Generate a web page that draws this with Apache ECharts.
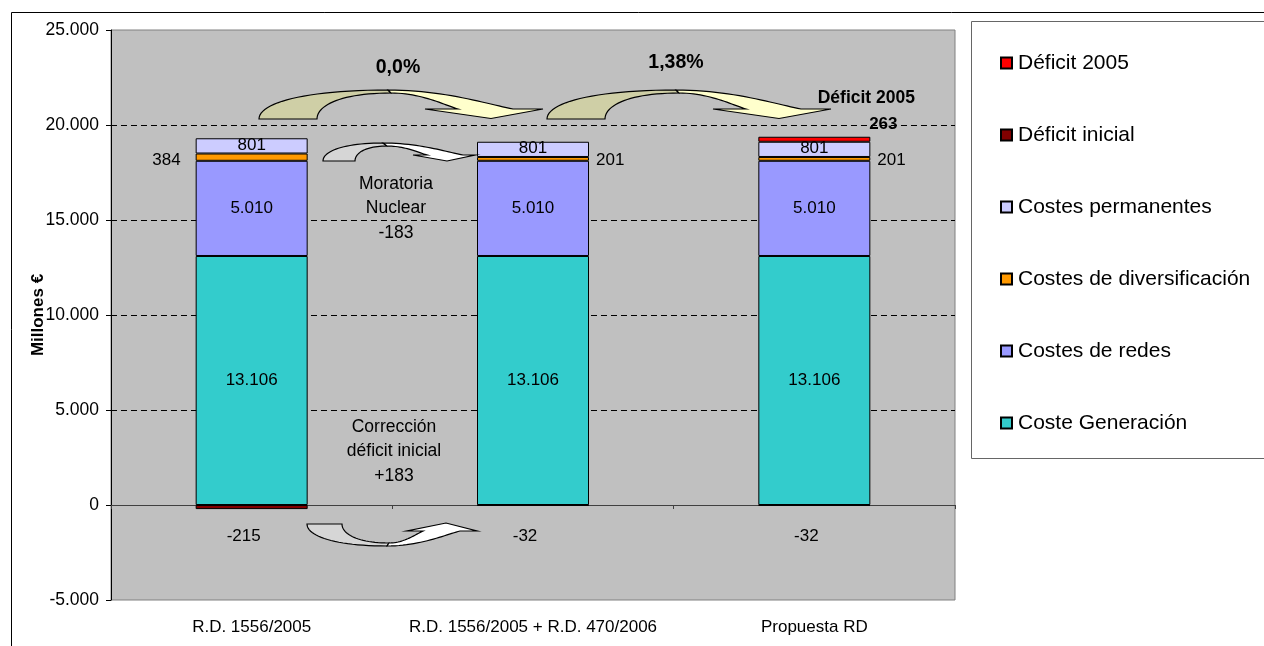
<!DOCTYPE html>
<html>
<head>
<meta charset="utf-8">
<script src="https://cdn.jsdelivr.net/npm/echarts@6/dist/echarts.min.js"></script>
<style>
  html, body { margin: 0; padding: 0; background: #ffffff; }
  #chart { width: 1264px; height: 646px; }
</style>
</head>
<body>
<div id="chart"></div>
<script>
// Cost structure per regulation (millones de euros)
const categories = ['R.D. 1556/2005', 'R.D. 1556/2005 + R.D. 470/2006', 'Propuesta RD'];
const costeGeneracion = [13106, 13106, 13106];
const costesRedes = [5010, 5010, 5010];
const costesDiversificacion = [384, 201, 201];
const costesPermanentes = [801, 801, 801];
const deficitInicial = [-215, -32, -32];
const deficit2005 = [null, null, 263];

// Annotation texts
const variaciones = ['0,0%', '1,38%'];
const moratoriaLines = ['Moratoria', 'Nuclear', '-183'];
const correccionLines = ['Corrección', 'déficit inicial', '+183'];

const FONT = "'Liberation Sans', Arial, sans-serif";

function fmt(v) {
  const s = String(Math.abs(v)).replace(/\B(?=(\d{3})+(?!\d))/g, '.');
  return (v < 0 ? '-' : '') + s;
}

// sample a cubic bezier into points
function cubic(p0, c1, c2, p3, n) {
  const pts = [];
  for (let i = 0; i <= n; i++) {
    const t = i / n, u = 1 - t;
    pts.push([
      u * u * u * p0[0] + 3 * u * u * t * c1[0] + 3 * u * t * t * c2[0] + t * t * t * p3[0],
      u * u * u * p0[1] + 3 * u * u * t * c1[1] + 3 * u * t * t * c2[1] + t * t * t * p3[1]
    ]);
  }
  return pts;
}
function rise(b, p) {
  return cubic(b, [b[0], b[1] + (p[1] - b[1]) * 0.55], [b[0] + (p[0] - b[0]) * 0.35, p[1]], p, 24);
}
function fall(p, e) {
  return cubic(p, [p[0] + (e[0] - p[0]) * 0.45, p[1]],
    [e[0] - (e[0] - p[0]) * 0.2, e[1] - (e[1] - p[1]) * 0.25], e, 24);
}

// Curved ribbon arrow: back half rising from the base, front half ending in the head
function curvedArrow(a, backColor, frontColor) {
  const back = rise(a.baseO, a.peakO).concat(rise(a.baseI, a.peakI).reverse());
  const front = fall(a.peakO, a.bandO)
    .concat([a.headR, a.tip, a.headL])
    .concat(fall(a.peakI, a.bandI).reverse());
  const st = { lineWidth: 1.2, stroke: '#000' };
  return [
    { type: 'polygon', z: 50, shape: { points: back }, style: Object.assign({ fill: backColor }, st) },
    { type: 'polygon', z: 51, shape: { points: front }, style: Object.assign({ fill: frontColor }, st) }
  ];
}

function shiftArrow(a, dx) {
  const o = {};
  for (const k in a) o[k] = [a[k][0] + dx, a[k][1]];
  return o;
}

const bigArrow = {
  baseO: [259, 119], baseI: [317, 119], peakO: [388, 90], peakI: [391, 93],
  bandO: [513, 109], bandI: [458, 109], headL: [425, 109], headR: [543, 109], tip: [491, 118.5]
};
const moratoriaArrow = {
  baseO: [323, 161], baseI: [355, 161], peakO: [383, 143], peakI: [387, 146],
  bandO: [463, 155], bandI: [427, 155], headL: [413, 155], headR: [475, 155], tip: [447, 161]
};
const correccionArrow = {
  baseO: [307, 524], baseI: [342, 524], peakO: [387, 546], peakI: [389, 543],
  bandO: [460, 531], bandI: [423, 531], headL: [407, 531], headR: [477, 531], tip: [446, 523]
};

function textEl(txt, x, y, size, bold) {
  return {
    type: 'text', z: 60,
    style: {
      text: txt, x: x, y: y, fill: '#000',
      font: (bold ? 'bold ' : '') + size + 'px ' + FONT,
      textAlign: 'center', textVerticalAlign: 'middle'
    }
  };
}

const graphics = [
  // chart frame
  { type: 'rect', z: 0, silent: true, shape: { x: 11.5, y: 12.5, width: 1300, height: 700 },
    style: { fill: 'none', stroke: '#000', lineWidth: 1 } },
  // legend frame
  { type: 'rect', z: 0, silent: true, shape: { x: 971.5, y: 21.5, width: 320, height: 437 },
    style: { fill: '#fff', stroke: '#666', lineWidth: 1 } }
]
  .concat(curvedArrow(bigArrow, '#CFCFA6', '#FFFFCC'))
  .concat(curvedArrow(shiftArrow(bigArrow, 288), '#CFCFA6', '#FFFFCC'))
  .concat(curvedArrow(moratoriaArrow, '#D6D6D6', '#FFFFFF'))
  .concat(curvedArrow(correccionArrow, '#D6D6D6', '#FFFFFF'))
  .concat([
    textEl(variaciones[0], 398, 68, 19.5, true),
    textEl(variaciones[1], 676, 63, 19.5, true),
    textEl(moratoriaLines[0], 396, 184, 17.5, false),
    textEl(moratoriaLines[1], 396, 208.5, 17.5, false),
    textEl(moratoriaLines[2], 396, 233, 17.5, false),
    textEl(correccionLines[0], 394, 427, 17.5, false),
    textEl(correccionLines[1], 394, 451.5, 17.5, false),
    textEl(correccionLines[2], 394, 476, 17.5, false)
  ]);

const barBase = {
  type: 'bar', stack: 'total', barWidth: 112,
  itemStyle: { borderColor: '#000', borderWidth: 1 },
  emphasis: { disabled: true }
};
const lblBase = { show: true, color: '#000', fontSize: 17, fontFamily: FONT };

const series = [
  Object.assign({}, barBase, {
    name: 'Coste Generación', data: costeGeneracion,
    itemStyle: { color: '#33CCCC', borderColor: '#000', borderWidth: 1 },
    label: Object.assign({}, lblBase, { position: 'inside', formatter: p => fmt(p.value) })
  }),
  Object.assign({}, barBase, {
    name: 'Costes de redes', data: costesRedes,
    itemStyle: { color: '#9999FF', borderColor: '#000', borderWidth: 1 },
    label: Object.assign({}, lblBase, { position: 'inside', formatter: p => fmt(p.value) })
  }),
  Object.assign({}, barBase, {
    name: 'Costes de diversificación',
    data: costesDiversificacion.map((v, i) => ({
      value: v,
      label: i === 0 ? { position: 'left', distance: 15, offset: [0, 3] }
                     : { position: 'right', distance: 7, offset: [0, 1] }
    })),
    itemStyle: { color: '#FF9900', borderColor: '#000', borderWidth: 1 },
    label: Object.assign({}, lblBase, { formatter: p => fmt(p.value) })
  }),
  Object.assign({}, barBase, {
    name: 'Costes permanentes', data: costesPermanentes,
    itemStyle: { color: '#CCCCFF', borderColor: '#000', borderWidth: 1 },
    label: Object.assign({}, lblBase, { position: 'inside', offset: [0, -1], formatter: p => fmt(p.value) })
  }),
  Object.assign({}, barBase, {
    name: 'Déficit inicial',
    data: deficitInicial.map((v, i) => ({
      value: v,
      label: { offset: i === 0 ? [-8, 0] : [-8, 3] }
    })),
    itemStyle: { color: '#800000', borderColor: '#000', borderWidth: 1 },
    label: Object.assign({}, lblBase, { position: 'bottom', distance: 19, formatter: p => fmt(p.value) })
  }),
  Object.assign({}, barBase, {
    name: 'Déficit 2005', data: deficit2005.map(v => (v === null ? '-' : v)),
    itemStyle: { color: '#FF0000', borderColor: '#000', borderWidth: 1 },
    label: Object.assign({}, lblBase, {
      position: 'top', distance: 2, offset: [52, 0],
      formatter: p => '{a|' + p.seriesName + '}\n{v|' + fmt(p.value) + '}',
      rich: {
        a: { fontSize: 17.5, fontWeight: 'bold', fontFamily: FONT, color: '#000', lineHeight: 34 },
        v: { fontSize: 17, fontWeight: 'bold', fontFamily: FONT, color: '#000', lineHeight: 20, padding: [0, 0, 0, 34] }
      }
    })
  })
];

const chart = echarts.init(document.getElementById('chart'), null, { renderer: 'canvas' });
chart.setOption({
  animation: false,
  backgroundColor: '#ffffff',
  textStyle: { fontFamily: FONT },
  grid: {
    left: 111, right: 309, top: 30, bottom: 46,
    show: true, backgroundColor: '#C0C0C0', borderColor: '#808080', borderWidth: 1
  },
  legend: {
    orient: 'vertical', left: 995, top: 47,
    icon: 'rect', itemWidth: 11, itemHeight: 11, itemGap: 50,
    selectedMode: false,
    data: ['Déficit 2005', 'Déficit inicial', 'Costes permanentes',
           'Costes de diversificación', 'Costes de redes', 'Coste Generación'],
    textStyle: { fontSize: 21, color: '#000', fontFamily: FONT, lineHeight: 22, padding: [0, 0, 0, 1] }
  },
  xAxis: [
    {
      type: 'category', data: categories, position: 'bottom',
      axisLine: { show: false, onZero: false }, axisTick: { show: false },
      axisLabel: { fontSize: 17, color: '#000', margin: 19, fontFamily: FONT, interval: 0, hideOverlap: false }
    },
    {
      type: 'category', data: categories, position: 'bottom',
      axisLine: { show: true, onZero: true, lineStyle: { color: '#404040', width: 1 } },
      axisTick: { show: true, length: 4, lineStyle: { color: '#404040' } },
      axisLabel: { show: false }
    }
  ],
  yAxis: {
    type: 'value', min: -5000, max: 25000, interval: 5000,
    name: 'Millones €', nameLocation: 'middle', nameRotate: 90, nameGap: 64,
    nameMoveOverlap: false,
    nameTextStyle: { fontSize: 17, fontWeight: 'bold', color: '#000', fontFamily: FONT },
    axisLine: { show: true, lineStyle: { color: '#000', width: 1 } },
    axisTick: { show: true, length: 5, lineStyle: { color: '#000' } },
    axisLabel: { fontSize: 17.5, color: '#000', margin: 12, fontFamily: FONT, formatter: v => fmt(v) },
    splitLine: {
      show: true, showMinLine: false, showMaxLine: false,
      lineStyle: { color: '#000', type: [6, 4], width: 1 }
    }
  },
  series: series,
  graphic: graphics
});
</script>
</body>
</html>
